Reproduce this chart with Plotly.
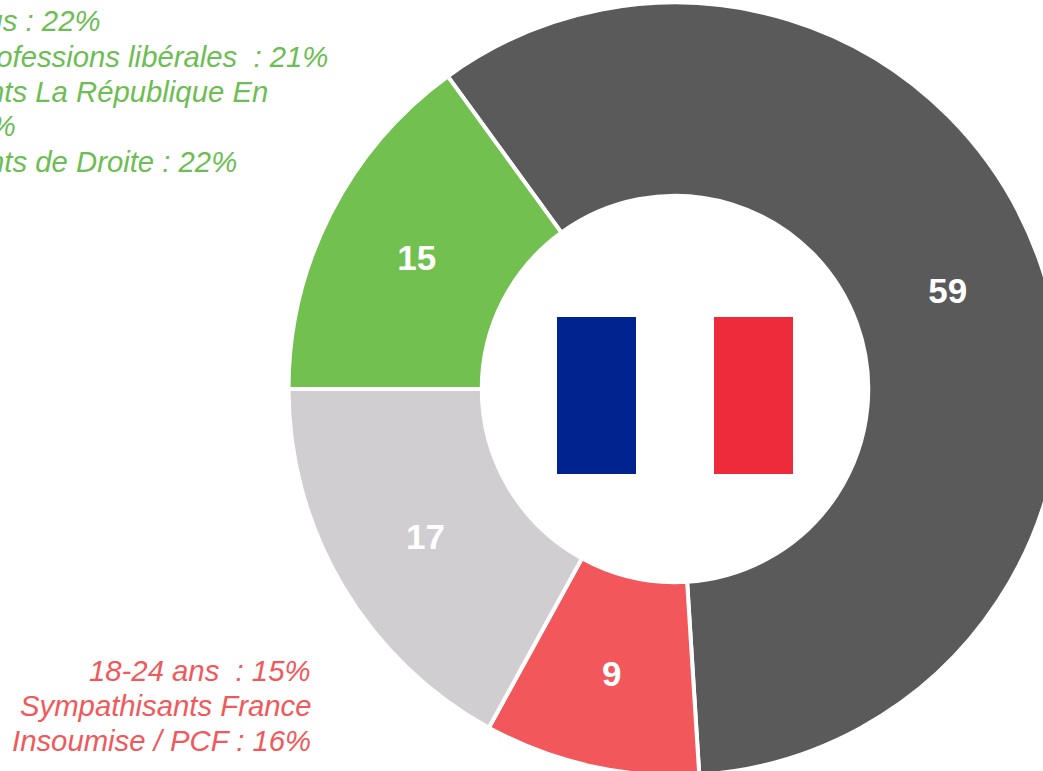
import plotly.graph_objects as go

categories = ["Ensemble", "Gauche", "Centre", "Droite"]
values = [59, 9, 17, 15]
colors = ["#5A5A5A", "#F2585B", "#D0CED0", "#72C04F"]

green_lines = [
    "65 ans et plus : 22%",
    "Cadres et professions libérales  : 21%",
    "Sympathisants La République En",
    "Marche : 22%",
    "Sympathisants de Droite : 22%",
]
red_lines = [
    "18-24 ans  : 15%",
    "Sympathisants France",
    "Insoumise / PCF : 16%",
]

W, H = 1100, 800
FONT = "Liberation Sans, Arial, sans-serif"
TEXT_SIZE = 29.3
LINE_GAP = 35


def px(x):
    return x / W


def py(y):
    return 1 - y / H


fig = go.Figure(
    go.Pie(
        labels=categories,
        values=values,
        hole=0.5,
        sort=False,
        direction="clockwise",
        rotation=-36,
        marker=dict(colors=colors, line=dict(color="white", width=4)),
        texttemplate="%{value}",
        textposition=["inside", "none", "inside", "inside"],
        insidetextorientation="horizontal",
        textfont=dict(family=FONT, size=35, color="white", weight="bold"),
        showlegend=False,
        hoverinfo="skip",
        domain=dict(x=[px(288.5), px(1061.5)], y=[py(775.5), py(2.5)]),
    )
)


def flag_rect(x0, x1, color):
    return dict(
        type="rect", xref="paper", yref="paper",
        x0=px(x0), x1=px(x1), y0=py(474), y1=py(317),
        fillcolor=color, line=dict(width=0), layer="below",
    )


def text_block(lines, x, first_y, anchor, color):
    return [
        dict(
            text="<i>" + line + "</i>",
            xref="paper", yref="paper", x=px(x), y=py(first_y + i * LINE_GAP),
            xanchor=anchor, yanchor="middle", showarrow=False,
            font=dict(family=FONT, size=TEXT_SIZE, color=color),
        )
        for i, line in enumerate(lines)
    ]


value_label = dict(
    text=f"<b>{values[1]}</b>",
    xref="paper", yref="paper", x=px(611), y=py(673),
    xanchor="center", yanchor="middle", showarrow=False,
    font=dict(family=FONT, size=35, color="white"),
)

fig.update_layout(
    width=W,
    height=H,
    margin=dict(l=0, r=0, t=0, b=0),
    paper_bgcolor="white",
    plot_bgcolor="white",
    shapes=[flag_rect(557, 636, "#00238F"), flag_rect(714, 793, "#EE2B3B")],
    annotations=text_block(green_lines, -167, 21, "left", "#6CBE52")
    + text_block(red_lines, 313, 670, "right", "#F2585B")
    + [value_label],
)

fig.write_html(
    "out.html",
    config=dict(displayModeBar=False),
    post_script="document.documentElement.style.overflow='hidden';document.body.style.overflow='hidden';document.body.style.margin='0';",
)
